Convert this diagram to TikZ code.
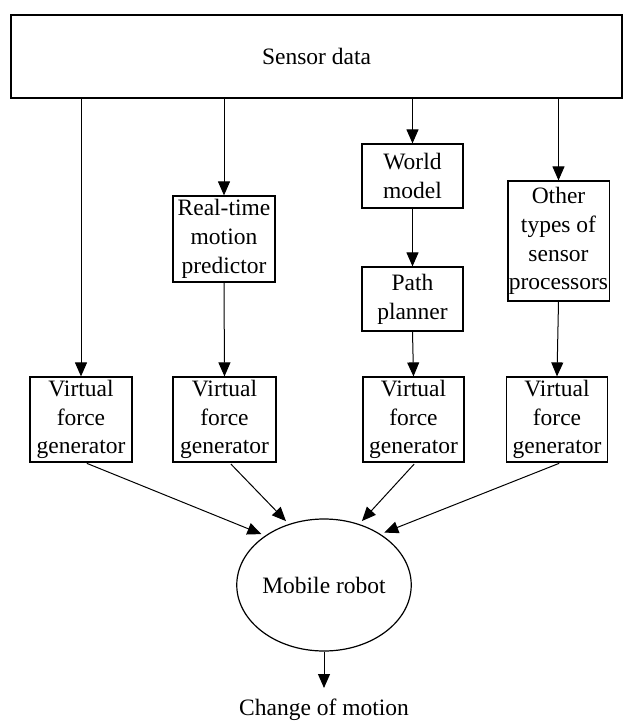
\documentclass[tikz,border=0pt]{standalone}
\usepackage{fontspec}
\setmainfont{Liberation Serif}
\usetikzlibrary{arrows.meta,shapes.geometric}
\begin{document}
\begin{tikzpicture}[x=1pt,y=-1pt,
  every node/.style={font=\fontsize{23.5}{28.7}\selectfont},
  box/.style={draw,line width=1.2pt,align=center,inner sep=1pt},
  arr/.style={-{Triangle[length=14pt,width=12pt]},line width=1pt},
  lnk/.style={arr,shorten <=2pt,shorten >=4pt}]
\useasboundingbox (0,0) rectangle (623,721);

% top block
\node[box,minimum width=611pt,minimum height=83pt] (sensor) at (316.5,56.5) {Sensor data};

% processing blocks
\node[box,minimum width=102pt,minimum height=86pt] (rtmp) at (224,239) {Real-time\\motion\\predictor};
\node[box,minimum width=101pt,minimum height=64pt] (world) at (412.5,176) {World\\model};
\node[box,minimum width=101pt,minimum height=64pt] (path) at (412.5,299) {Path\\planner};
\node[box,minimum width=101pt,minimum height=120pt] (other) at (558.5,241) {Other\\types of\\sensor\\processors};

% force generators
\node[box,minimum width=102pt,minimum height=85pt] (vfg1) at (81,419.5) {Virtual\\force\\generator};
\node[box,minimum width=103pt,minimum height=85pt] (vfg2) at (224.5,419.5) {Virtual\\force\\generator};
\node[box,minimum width=101pt,minimum height=85pt] (vfg3) at (413.5,419.5) {Virtual\\force\\generator};
\node[box,minimum width=101pt,minimum height=85pt] (vfg4) at (557,419.5) {Virtual\\force\\generator};

% robot and output
\node[draw,ellipse,line width=1.2pt,minimum width=142pt,minimum height=132pt,inner sep=0pt] (robot) at (324,585) {Mobile robot};
\node[inner sep=1pt] (change) at (324,710) {Change of motion};

% sensor data feeds
\draw[arr] (vfg1.north |- sensor.south) -- (vfg1.north);
\draw[arr] (rtmp.north |- sensor.south) -- (rtmp.north);
\draw[arr] (world.north |- sensor.south) -- (world.north);
\draw[arr] (other.north |- sensor.south) -- (other.north);

% processing chains
\draw[arr] (rtmp.south) -- (vfg2.north);
\draw[arr] (world.south) -- (path.north);
\draw[arr] (path.south) -- (vfg3.north);
\draw[arr] (other.south) -- (vfg4.north);

% forces acting on the robot
\draw[lnk] ([xshift=4pt]vfg1.south) -- (robot.140);
\draw[lnk] ([xshift=5pt]vfg2.south) -- (robot.120);
\draw[lnk] ([xshift=2pt]vfg3.south) -- (robot.60);
\draw[lnk] ([xshift=4pt]vfg4.south) -- (robot.42);

% resulting motion
\draw[arr,shorten >=10pt] (robot.south) -- (change.north);
\end{tikzpicture}
\end{document}
